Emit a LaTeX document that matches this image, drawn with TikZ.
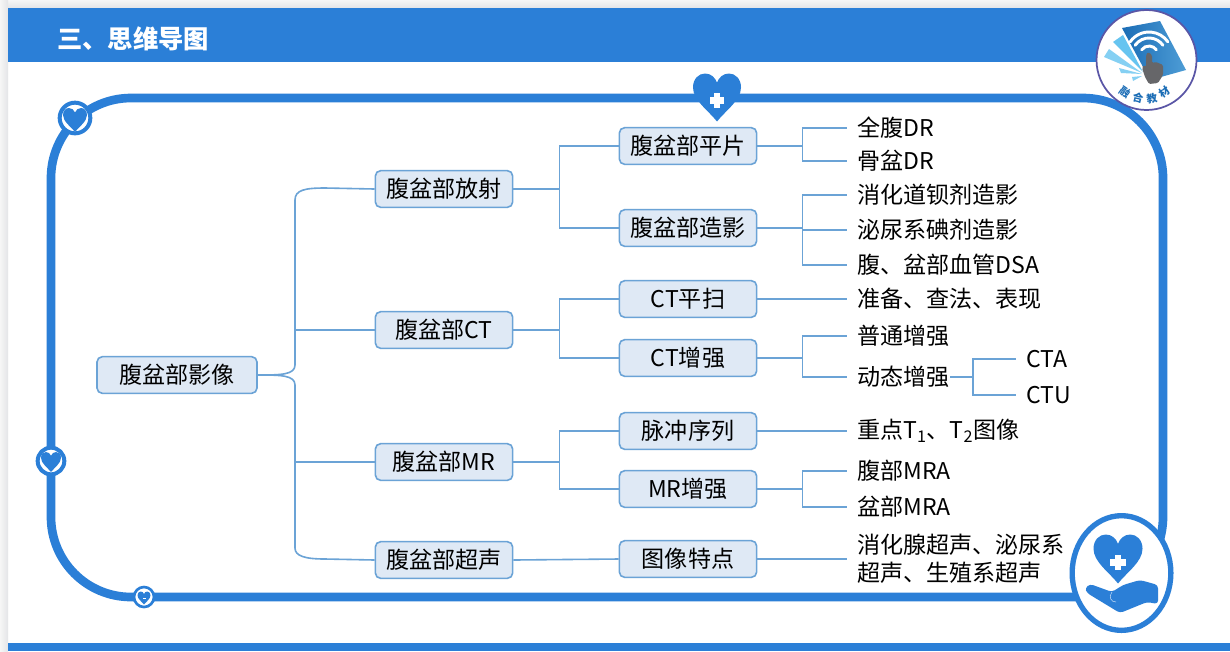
\documentclass[tikz,border=0pt]{standalone}
\usepackage{fontspec}
\setmainfont{Noto Sans CJK SC}
\usetikzlibrary{positioning,shapes.geometric}
\definecolor{bandblue}{HTML}{2B7FD7}
\definecolor{linkblue}{HTML}{6BA3D6}
\definecolor{boxfill}{HTML}{DFE9F5}
\definecolor{pagegray}{HTML}{E4E5E7}
\definecolor{pagepale}{HTML}{F6F6F6}
\definecolor{logoring}{HTML}{5A56A6}
\definecolor{logodark}{HTML}{1B6DB6}
\definecolor{logolight}{HTML}{4E9DD6}
\definecolor{logohand}{HTML}{666669}
\definecolor{logosky}{HTML}{66C4F0}
\newcommand{\heartoutline}{(0,1) .. controls (-0.35,0.55) and (-1,0.12) .. (-1,-0.42)
      .. controls (-1,-0.78) and (-0.76,-1) .. (-0.5,-1)
      .. controls (-0.26,-1) and (-0.08,-0.84) .. (0,-0.62)
      .. controls (0.08,-0.84) and (0.26,-1) .. (0.5,-1)
      .. controls (0.76,-1) and (1,-0.78) .. (1,-0.42)
      .. controls (1,0.12) and (0.35,0.55) .. (0,1) -- cycle}
\tikzset{
  heartpath/.pic={
    \fill[bandblue] \heartoutline;
  },
  heartcross/.pic={
    \fill[bandblue] \heartoutline;
    \fill[white] (-0.31,-0.01) rectangle (0.31,0.27);
    \fill[white] (-0.14,-0.18) rectangle (0.14,0.44);
  },
}
\begin{document}
\begin{tikzpicture}[
  x=0.75pt,y=-0.75pt,
  font=\fontsize{17.3pt}{21pt}\selectfont,
  mapbox/.style={draw=linkblue,fill=boxfill,rounded corners=4pt,line width=1.2pt,
                 minimum width=103pt,minimum height=27.5pt,inner sep=0pt},
  rootbox/.style={mapbox,minimum width=120pt},
  leaf/.style={anchor=west,inner xsep=7.5pt,inner ysep=0pt,align=left},
  link/.style={draw=linkblue,line width=1.2pt},
  ringmark/.style={draw=bandblue,fill=white,line width=3pt},
]

% ---- Page, bands ------------------------------------------------------------
\useasboundingbox (0,0) rectangle (1230,651);
\fill[white] (0,0) rectangle (1230,651);
\path[top color=pagepale,bottom color=pagegray] (0,0) rectangle (1230,8);
\path[left color=pagepale,right color=pagegray] (0,0) rectangle (8,651);
\fill[bandblue] (8,8) rectangle (1230,62);
\fill[bandblue] (8,643) rectangle (1230,651);
\node[text=white,font=\fontsize{19pt}{21pt}\selectfont\bfseries,anchor=west,inner sep=0pt]
  (title) at (57,39) {三、思维导图};

% ---- Frame and its marks ----------------------------------------------------
\draw[bandblue,line width=6.5pt,rounded corners=60pt] (51,98) rectangle (1163,597);

\node[ringmark,circle,minimum size=23pt,inner sep=0pt] (markA) at (75,118) {};
\pic[scale=12] at (75,120) {heartpath};
\node[ringmark,circle,minimum size=20pt,inner sep=0pt] (markB) at (51,461) {};
\pic[scale=10] at (51,462) {heartpath};
\node[ringmark,circle,line width=2pt,minimum size=15pt,inner sep=0pt] (markC) at (144,597) {};
\pic[scale=6.5] at (144,598) {heartpath};
\fill[white] (142.5,597.5) rectangle (145.5,598.5);
\pic[scale=24] at (717,97.5) {heartcross};

% ---- Hand mark --------------------------------------------------------------
\node[ringmark,ellipse,line width=4pt,minimum width=74pt,minimum height=86pt,inner sep=0pt]
  (markD) at (1121.5,573) {};
\pic[scale=24.5] at (1118,559) {heartcross};
\fill[bandblue,rounded corners=2.5pt] (1085,588) -- (1090,584) -- (1112,592) -- (1123,585)
  -- (1140,580) -- (1158,585) -- (1158,604) -- (1147,602) -- (1120,613) -- (1087,593) -- cycle;
\draw[white!70!bandblue,line width=0.4pt] (1112,592) .. controls (1108,597) and (1111,602) .. (1116,602);

% ---- Logo -------------------------------------------------------------------
\node[draw=logoring,fill=white,circle,line width=1.3pt,minimum size=75pt,inner sep=0pt]
  (logo) at (1146.5,60) {};
\fill[logosky] (1113,42) -- (1123,35) -- (1143,72) -- cycle;
\fill[logosky!80!white] (1104,57) -- (1109,49) -- (1142,73) -- cycle;
\fill[logosky!80!white] (1119,68) -- (1121,73) -- (1142,74) -- cycle;
\fill[logosky!80!white] (1132,77) -- (1133,81) -- (1142,76) -- cycle;
\path[left color=logodark,right color=logolight] (1122,28) -- (1160,21) -- (1186,70) -- (1150,80) -- cycle;
\foreach \rad in {9,17,23}{
  \draw[white,line width=2.2pt,line cap=round] (1149,55) ++(-145:\rad) arc[start angle=-145,end angle=-35,radius=\rad];
}
\fill[logohand,rounded corners=1pt] (1146,55) -- (1148,52) -- (1152,55) -- (1152,63) -- (1156,62)
  -- (1163,65) -- (1163,75) -- (1158,83) -- (1149,84) -- (1145,77) -- (1142,68) -- (1144,65) -- (1146,67) -- cycle;
\node[text=logodark,font=\fontsize{8pt}{9pt}\selectfont\bfseries,rotate=-35,inner sep=0pt] (logoA) at (1125,92) {融};
\node[text=logodark,font=\fontsize{8pt}{9pt}\selectfont\bfseries,rotate=-14,inner sep=0pt] (logoB) at (1138,98) {合};
\node[text=logodark,font=\fontsize{8pt}{9pt}\selectfont\bfseries,rotate=10,inner sep=0pt] (logoC) at (1152,99) {教};
\node[text=logodark,font=\fontsize{8pt}{9pt}\selectfont\bfseries,rotate=35,inner sep=0pt] (logoD) at (1165,92) {材};

% ---- Root and second level --------------------------------------------------
\node[rootbox] (root) at (177,375) {腹盆部影像};
\node[mapbox] (fangshe) at (444,189) {腹盆部放射};
\node[mapbox] (ct)      at (444,330) {腹盆部CT};
\node[mapbox] (mr)      at (444,462) {腹盆部MR};
\node[mapbox] (chaosheng) at (444,560) {腹盆部超声};

% ---- Third level ------------------------------------------------------------
\node[mapbox] (pingpian) at (688,146) {腹盆部平片};
\node[mapbox] (zaoying)  at (688,228) {腹盆部造影};
\node[mapbox] (ctping)   at (688,299) {CT平扫};
\node[mapbox] (ctzeng)   at (688,358) {CT增强};
\node[mapbox] (maichong) at (688,431) {脉冲序列};
\node[mapbox] (mrzeng)   at (688,489) {MR增强};
\node[mapbox] (tedian)   at (688,559) {图像特点};

% ---- Leaves -----------------------------------------------------------------
\node[leaf] (quanfu)  at (847,128) {全腹DR};
\node[leaf] (gupen)   at (847,161) {骨盆DR};
\node[leaf] (xiaohua) at (847,195) {消化道钡剂造影};
\node[leaf] (miniao)  at (847,230) {泌尿系碘剂造影};
\node[leaf] (xueguan) at (847,265) {腹、盆部血管DSA};
\node[leaf] (zhunbei) at (847,299) {准备、查法、表现};
\node[leaf] (putong)  at (847,336) {普通增强};
\node[leaf] (dongtai) at (847,377) {动态增强};
\node[leaf] (cta)     at (1016,359) {CTA};
\node[leaf] (ctu)     at (1016,395) {CTU};
\node[leaf] (zhongdian) at (847,431) {重点T\textsubscript{1}、T\textsubscript{2}图像};
\node[leaf] (fubu)    at (847,471) {腹部MRA};
\node[leaf] (penbu)   at (847,507) {盆部MRA};
\node[leaf] (xian)    at (847,559) {消化腺超声、泌尿系\\超声、生殖系超声};

% ---- Links ------------------------------------------------------------------
\draw[link] (root.east) .. controls (280,375) and (295,375) .. (295,365)
  -- (295,200) .. controls (295,190) and (305,188) .. (325,188) -- (fangshe.west);
\draw[link] (root.east) .. controls (280,375) and (295,375) .. (295,385)
  -- (295,548) .. controls (295,556) and (305,559) .. (325,559) -- (chaosheng.west);
\coordinate (trunkA) at (295,330);
\coordinate (trunkB) at (295,462);
\draw[link] (trunkA) -- (ct.west);
\draw[link] (trunkB) -- (mr.west);

\foreach \from/\to in {fangshe/pingpian, fangshe/zaoying, ct/ctping, ct/ctzeng, mr/maichong, mr/mrzeng}{
  \draw[link] (\from.east) -- ++(46,0) |- (\to.west);
}
\foreach \from/\to in {pingpian/quanfu, pingpian/gupen, zaoying/xiaohua, zaoying/miniao, zaoying/xueguan,
                       ctzeng/putong, ctzeng/dongtai, mrzeng/fubu, mrzeng/penbu}{
  \draw[link] (\from.east) -- ++(45,0) |- (\to.west);
}
\foreach \from/\to in {chaosheng/tedian, tedian/xian, ctping/zhunbei, maichong/zhongdian}{
  \draw[link] (\from.east) -- (\to.west);
}
\foreach \to in {cta,ctu}{
  \draw[link] ([xshift=-7]dongtai.east) -- (973,377) |- (\to.west);
}

\end{tikzpicture}
\end{document}
